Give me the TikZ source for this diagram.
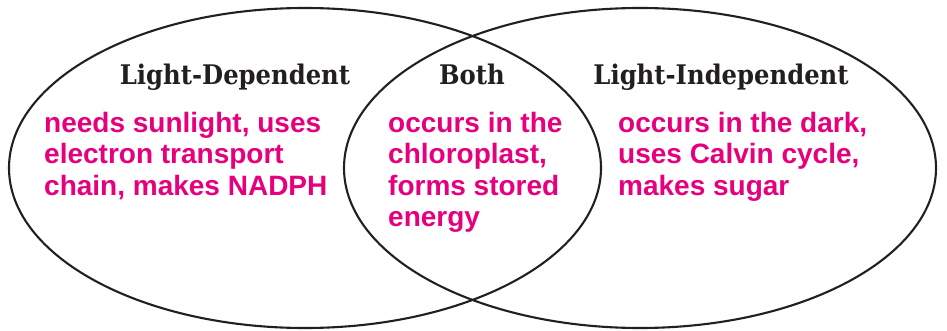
\documentclass[tikz,border=0pt]{standalone}
\usepackage{fontspec}
\setmainfont{Liberation Sans}
\newfontfamily\headfont{DejaVu Serif Condensed}
\usepackage{tikz}
\definecolor{vennInk}{RGB}{35, 31, 32}
\definecolor{notePink}{RGB}{230, 0, 126}

\begin{document}
\begin{tikzpicture}[x=1pt, y=-1pt,
    head/.style={font=\headfont\bfseries\fontsize{27}{30}\selectfont, text=vennInk, inner sep=0, anchor=base},
    note/.style={font=\bfseries\fontsize{28}{31.5}\selectfont, text=notePink, align=left, inner sep=0, anchor=north west}]
        \useasboundingbox (0,0) rectangle (947,331);
        \draw[vennInk, line width=2.1pt] (305,168) ellipse (296 and 160);
        \draw[vennInk, line width=2.1pt] (640,168) ellipse (296 and 160);
        % titles
        \node[head] (dep) at (235,85) {Light-Dependent};
        \node[head] (both) at (472,85) {Both};
        \node[head] (indep) at (721,85) {Light-Independent};
        % notes
        \node[note] (depnote) at (44,112) {needs sunlight, uses\\electron transport\\chain, makes NADPH};
        \node[note] (bothnote) at (388,112) {occurs in the\\chloroplast,\\forms stored\\energy};
        \node[note] (indepnote) at (618,112) {occurs in the dark,\\uses Calvin cycle,\\makes sugar};
      \end{tikzpicture}
\end{document}
